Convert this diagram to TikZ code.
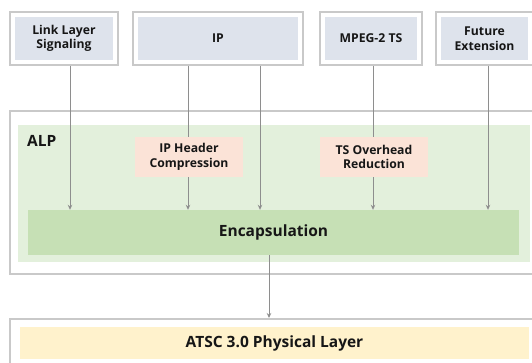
\documentclass[tikz,border=0pt]{standalone}
\usepackage{fontspec}
\setmainfont{Open Sans}
\usetikzlibrary{arrows.meta}
\definecolor{boxgray}{HTML}{C9C9C9}
\definecolor{topfill}{HTML}{DEE3EC}
\definecolor{alpfill}{HTML}{E3F0DC}
\definecolor{encfill}{HTML}{C6E0B5}
\definecolor{pinkfill}{HTML}{FBE3D7}
\definecolor{phyfill}{HTML}{FFF2CC}
\definecolor{arrowgray}{HTML}{8E8E8E}
\definecolor{txt}{HTML}{161616}
\tikzset{
  frame/.style={draw=boxgray, line width=2pt, fill=white, inner sep=0pt},
  fillbox/.style={inner sep=0pt, text=txt, align=center},
  smalltxt/.style={font=\fontsize{12.2}{14.5}\selectfont\bfseries},
  bigtxt/.style={font=\fontsize{15.5}{18}\selectfont\bfseries},
  conn/.style={draw=arrowgray, line width=1pt},
  arr/.style={conn, -{Stealth[length=5pt,width=4.5pt]}}
}
\begin{document}
\begin{tikzpicture}[x=1pt,y=-1pt]
\useasboundingbox (0,0) rectangle (532,363);
\clip (0,0) rectangle (532,363);
% top boxes
\node[frame, minimum width=108pt, minimum height=53pt] (llso) at (64,38.5) {};
\node[fillbox, fill=topfill, minimum width=98pt, minimum height=43pt, smalltxt] (lls) at (64,38.5) {Link Layer\\Signaling};
\node[frame, minimum width=170pt, minimum height=53pt] (ipo) at (218,38.5) {};
\node[fillbox, fill=topfill, minimum width=160pt, minimum height=43pt, smalltxt] (ip) at (218,38.5) {IP};
\node[frame, minimum width=102pt, minimum height=53pt] (mpo) at (371,38.5) {};
\node[fillbox, fill=topfill, minimum width=92pt, minimum height=43pt, smalltxt] (mp) at (371,38.5) {MPEG-2 TS};
\node[frame, minimum width=97pt, minimum height=53pt] (feo) at (484.5,38.5) {};
\node[fillbox, fill=topfill, minimum width=87pt, minimum height=43pt, smalltxt] (fe) at (484.5,38.5) {Future\\Extension};
% ALP
\node[frame, minimum width=524pt, minimum height=163pt] (alpo) at (272,192.5) {};
\node[fillbox, fill=alpfill, minimum width=512pt, minimum height=137pt] (alp) at (274,193.5) {};
\node[anchor=west, inner sep=0pt, text=txt, font=\fontsize{15.5}{17}\selectfont\bfseries] (alplabel) at (27,141) {ALP};
\node[fillbox, fill=encfill, minimum width=491pt, minimum height=45pt, bigtxt] (enc) at (273.5,232.5) {Encapsulation};
\node[fillbox, fill=pinkfill, minimum width=108pt, minimum height=40pt, smalltxt] (iphc) at (189,157) {IP Header\\Compression};
\node[fillbox, fill=pinkfill, minimum width=108pt, minimum height=40pt, smalltxt] (tso) at (374,157) {TS Overhead\\Reduction};
% physical
\node[frame, minimum width=524pt, minimum height=53pt] (phyo) at (272,345.5) {};
\node[fillbox, fill=phyfill, minimum width=509pt, minimum height=32pt, bigtxt] (phy) at (274.5,343) {ATSC 3.0 Physical Layer};
% column coordinates
\coordinate (c1) at (70,0);
\coordinate (c2) at (188,0);
\coordinate (c3) at (260,0);
\coordinate (c4) at (373,0);
\coordinate (c5) at (488,0);
\coordinate (c6) at (269,0);
% connectors
\draw[arr] (llso.south -| c1) -- (enc.north -| c1);
\draw[conn] (ipo.south -| c2) -- (iphc.north -| c2);
\draw[arr] (iphc.south -| c2) -- (enc.north -| c2);
\draw[arr] (ipo.south -| c3) -- (enc.north -| c3);
\draw[conn] (mpo.south -| c4) -- (tso.north -| c4);
\draw[arr] (tso.south -| c4) -- (enc.north -| c4);
\draw[arr] (feo.south -| c5) -- (enc.north -| c5);
\draw[arr] (enc.south -| c6) -- (phyo.north -| c6);
\end{tikzpicture}
\end{document}
